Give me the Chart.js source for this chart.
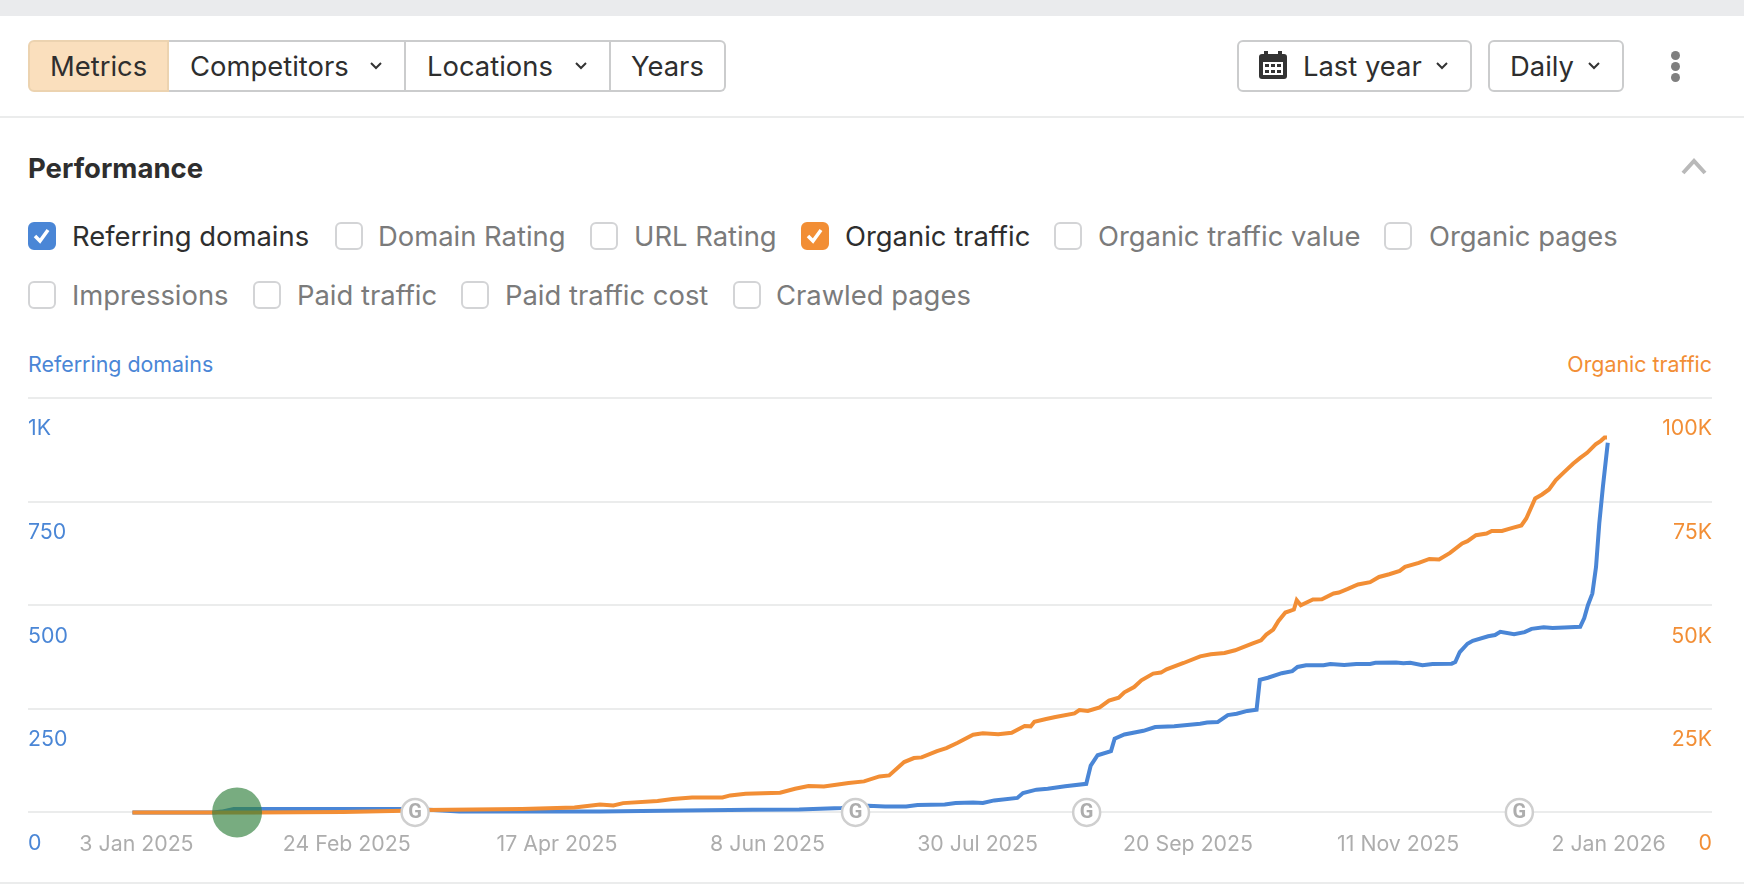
<!DOCTYPE html>
<html>
<head>
<meta charset="utf-8">
<title>Performance</title>
<script src="https://cdn.jsdelivr.net/npm/chart.js@4/dist/chart.umd.min.js"></script>
<style>
html, body { margin: 0; padding: 0; background: #fff; }
body { width: 1744px; height: 884px; position: relative; overflow: hidden; font-family: Inter, sans-serif; color: #2e2e2e; }
.abs { position: absolute; }
.band { left: 0; top: 0; width: 1744px; height: 16px; background: #eaebed; }
.rule { left: 0; width: 1744px; height: 2px; background: #ebecec; }
.btn { box-sizing: border-box; top: 40px; height: 52px; border: 2px solid #cbcccd; background: #fff; }
.txt { font-size: 27.4px; line-height: 32px; white-space: nowrap; }
.check { box-sizing: border-box; width: 28px; height: 28px; border: 2px solid #d3d4d6; border-radius: 6px; background: #fff; }
.check.blue { background: #4a86d6; border-color: #4a86d6; }
.check.orange { background: #f28e35; border-color: #f28e35; }
.check svg { position: absolute; left: 3px; top: 3px; }
.off { color: #7b7b7b; }
.dot { width: 9px; height: 9px; border-radius: 50%; background: #7f7f7f; left: 1671px; }
canvas { position: absolute; left: 0; top: 373px; }
</style>
</head>
<body>
<div class="abs band"></div>

<div class="abs btn" style="left:28px;width:141px;background:#fadfbd;border-color:#ecd3b0;border-radius:6px 0 0 6px"></div>
<div class="abs btn" style="left:169px;width:237px;border-left:none"></div>
<div class="abs btn" style="left:406px;width:205px;border-left:none"></div>
<div class="abs btn" style="left:611px;width:115px;border-left:none;border-radius:0 6px 6px 0"></div>
<div class="abs txt" style="left:50px;top:50px">Metrics</div>
<div class="abs txt" style="left:190px;top:50px">Competitors</div>
<div class="abs txt" style="left:427px;top:50px">Locations</div>
<div class="abs txt" style="left:631px;top:50px">Years</div>
<svg class="abs" style="left:369px;top:60px" width="14" height="12"><path d="M2 3 L7 8 L12 3" fill="none" stroke="#333" stroke-width="2"/></svg>
<svg class="abs" style="left:574px;top:60px" width="14" height="12"><path d="M2 3 L7 8 L12 3" fill="none" stroke="#333" stroke-width="2"/></svg>

<div class="abs btn" style="left:1237px;width:235px;border-radius:6px"></div>
<div class="abs btn" style="left:1488px;width:136px;border-radius:6px"></div>
<svg class="abs" style="left:1259px;top:51px" width="28" height="28" viewBox="0 0 28 28">
<rect x="0" y="3" width="28" height="25" rx="3" fill="#333"/><rect x="5" y="0" width="4" height="6" fill="#333"/><rect x="19" y="0" width="4" height="6" fill="#333"/>
<rect x="4" y="11" width="20" height="13" fill="#fff"/>
<path d="M6 13h4v3h-4zM12 13h4v3h-4zM18 13h4v3h-4zM6 19h4v3h-4zM12 19h4v3h-4zM18 19h4v3h-4z" fill="#333"/>
</svg>
<div class="abs txt" style="left:1303px;top:50px">Last year</div>
<div class="abs txt" style="left:1510px;top:50px">Daily</div>
<svg class="abs" style="left:1435px;top:60px" width="14" height="12"><path d="M2 3 L7 8 L12 3" fill="none" stroke="#333" stroke-width="2"/></svg>
<svg class="abs" style="left:1587px;top:60px" width="14" height="12"><path d="M2 3 L7 8 L12 3" fill="none" stroke="#333" stroke-width="2"/></svg>
<div class="abs dot" style="top:51px"></div>
<div class="abs dot" style="top:62px"></div>
<div class="abs dot" style="top:73px"></div>

<div class="abs rule" style="top:116px"></div>

<div class="abs" style="left:28px;top:152px;font-size:27.5px;line-height:32px;font-weight:700">Performance</div>
<svg class="abs" style="left:1681px;top:157px" width="26" height="18"><path d="M2 16 L13 4 L24 16" fill="none" stroke="#b9b9b9" stroke-width="4"/></svg>

<div class="abs check blue" style="left:28px;top:222px"><svg width="18" height="18"><path d="M2 9 L7 14 L15 3" fill="none" stroke="#fff" stroke-width="3.5"/></svg></div>
<div class="abs txt" style="left:72px;top:220px">Referring domains</div>
<div class="abs check" style="left:335px;top:222px"></div>
<div class="abs txt off" style="left:378px;top:220px">Domain Rating</div>
<div class="abs check" style="left:590px;top:222px"></div>
<div class="abs txt off" style="left:634px;top:220px">URL Rating</div>
<div class="abs check orange" style="left:801px;top:222px"><svg width="18" height="18"><path d="M2 9 L7 14 L15 3" fill="none" stroke="#fff" stroke-width="3.5"/></svg></div>
<div class="abs txt" style="left:845px;top:220px">Organic traffic</div>
<div class="abs check" style="left:1054px;top:222px"></div>
<div class="abs txt off" style="left:1098px;top:220px">Organic traffic value</div>
<div class="abs check" style="left:1384px;top:222px"></div>
<div class="abs txt off" style="left:1429px;top:220px">Organic pages</div>

<div class="abs check" style="left:28px;top:281px"></div>
<div class="abs txt off" style="left:72px;top:279px">Impressions</div>
<div class="abs check" style="left:253px;top:281px"></div>
<div class="abs txt off" style="left:297px;top:279px">Paid traffic</div>
<div class="abs check" style="left:461px;top:281px"></div>
<div class="abs txt off" style="left:505px;top:279px">Paid traffic cost</div>
<div class="abs check" style="left:733px;top:281px"></div>
<div class="abs txt off" style="left:776px;top:279px">Crawled pages</div>

<div class="abs" style="left:28px;top:352px;font-size:21.4px;line-height:24px;color:#4a86d6">Referring domains</div>
<div class="abs" style="right:32px;top:352px;font-size:21.4px;line-height:24px;color:#f28e35">Organic traffic</div>

<canvas id="chart" width="1744" height="503"></canvas>

<div class="abs rule" style="top:882px"></div>

<script>
// x runs along the year, first point is 2 Jan 2025, last is 2 Jan 2026 at 364
const xTickDays = [0.997, 52.85, 104.7, 156.6, 208.4, 260.3, 312.1, 364];
const xTickLabels = ['3 Jan 2025', '24 Feb 2025', '17 Apr 2025', '8 Jun 2025', '30 Jul 2025', '20 Sep 2025', '11 Nov 2025', '2 Jan 2026'];
const leftTicks = { 0: '0', 250: '250', 500: '500', 750: '750', 1000: '1K' };
const rightTicks = { 0: '0', 25000: '25K', 50000: '50K', 75000: '75K', 100000: '100K' };

const domainDays = [0, 20, 22, 25, 45, 70, 80.6, 100, 115.3, 136, 153, 164.4, 174.8, 181.4, 185.6, 190.8, 193.6, 200.3, 203, 207.3, 209.7, 212.5, 218.2, 219.6, 222.9, 225.7, 230, 235.2, 236.3, 238, 241.3, 242.2, 244.6, 249.3, 252.2, 256.9, 263.3, 265, 267.6, 270.1, 272.3, 274.9, 277.2, 278, 280, 283.4, 286, 287.3, 289.4, 293.7, 295.4, 298.8, 301.8, 305.2, 306.5, 311.6, 313.4, 315.1, 318.1, 320.6, 325.3, 326.2, 327.3, 329.2, 330.5, 334.3, 336, 337.3, 340.7, 343.3, 345, 348, 350.2, 353.1, 357, 358, 358.9, 360, 360.9, 361.7, 362.6, 363.8];
const domainValues = [0, 0, 2, 8, 8, 8, 2, 2, 2.4, 4.8, 6.4, 7.2, 11, 16, 14.5, 14.5, 18, 19, 22.5, 24, 23, 29, 35, 47, 55, 57, 63, 69, 113, 138, 148, 178, 188, 197, 206, 208, 214, 217, 218, 235, 238, 245, 248, 320, 325, 336, 341, 351, 355, 355, 358, 356, 358, 358, 361, 362, 360, 361, 355, 358, 359, 363, 387, 407, 414, 425, 428, 436, 430, 435, 443, 447, 445, 446, 448, 469, 500, 528, 592, 697, 786, 892];

const trafficDays = [0, 30, 52, 67, 72, 96, 109, 115.3, 118.6, 121, 129.5, 133.2, 138, 145.5, 147.4, 151.2, 159.7, 163.4, 166.7, 170.5, 176.6, 180.4, 184.2, 186.6, 190.3, 192.7, 194.6, 198.4, 200.7, 203.5, 207.3, 209.7, 213.5, 216.8, 220, 221.5, 222.4, 225.3, 227.6, 232.3, 233.5, 235.6, 238.5, 240.8, 243.2, 244.6, 247, 248.8, 251.7, 253.6, 255, 259.2, 263.3, 265.9, 269.3, 271.9, 276.1, 278.3, 279.6, 281.3, 282.6, 284.3, 286.4, 287.1, 288.1, 291.1, 293.3, 296.2, 297.5, 299.7, 302.2, 305.2, 307.4, 309.9, 312.5, 313.8, 317.2, 319.8, 322.2, 324.9, 327.9, 329.2, 331.3, 333.9, 335.2, 337.7, 340.3, 342.5, 343.7, 345.9, 347.6, 349.3, 351, 353.1, 355.3, 357, 358.7, 360.8, 362.1, 363, 363.6];
const trafficValues = [0, 0, 100, 400, 560, 800, 1200, 1930, 1690, 2250, 2735, 3220, 3620, 3620, 4105, 4510, 4750, 5715, 6360, 6280, 7080, 7490, 8690, 8935, 12155, 13120, 13280, 14810, 15535, 16820, 18750, 19080, 18840, 19240, 20850, 20770, 21900, 22540, 23020, 23910, 24710, 24470, 25360, 26970, 27700, 28980, 30260, 31880, 33500, 33740, 34530, 36060, 37670, 38160, 38480, 39120, 40730, 41540, 42910, 44120, 46200, 48230, 48950, 51200, 49990, 51370, 51440, 52820, 53060, 53930, 54990, 55550, 56820, 57480, 58270, 59240, 60210, 61170, 61030, 62620, 64890, 65450, 66900, 67310, 67930, 67930, 68660, 69240, 70930, 75760, 76720, 77930, 80180, 82180, 84210, 85560, 86770, 88800, 89670, 90490, 90490];

const googleUpdateDays = [69.7, 178.3, 235.3, 342];
const markerDays = [25.8];

const toPoints = (xs, ys) => xs.map((x, i) => ({ x: x, y: ys[i] }));

// the G letter on top of the update circles
const googleLetters = {
    id: 'googleLetters',
    afterDatasetsDraw(chart) {
        const ctx = chart.ctx;
        ctx.save();
        ctx.font = '700 20px Roboto, sans-serif';
        ctx.fillStyle = '#adadad';
        ctx.textAlign = 'center';
        ctx.textBaseline = 'middle';
        googleUpdateDays.forEach(day => {
            ctx.fillText('G', chart.scales.x.getPixelForValue(day), chart.scales.y.getPixelForValue(0) + 1);
        });
        ctx.restore();
    }
};

new Chart(document.getElementById('chart'), {
    type: 'line',
    data: {
        datasets: [
            { label: 'Referring domains', data: toPoints(domainDays, domainValues), yAxisID: 'y', borderColor: '#4a86d6', borderWidth: 4, pointRadius: 0, tension: 0, clip: false, order: 4 },
            { label: 'Organic traffic', data: toPoints(trafficDays, trafficValues), yAxisID: 'y1', borderColor: '#f28e35', borderWidth: 4, pointRadius: 0, tension: 0, clip: false, order: 3 },
            { label: 'Marker', data: markerDays.map(d => ({ x: d, y: 0 })), yAxisID: 'y', showLine: false, pointRadius: 25, pointBorderWidth: 0, pointBackgroundColor: 'rgba(48, 128, 60, 0.65)', clip: false, order: 2 },
            { label: 'Google updates', data: googleUpdateDays.map(d => ({ x: d, y: 0 })), yAxisID: 'y', showLine: false, pointRadius: 13.5, pointBorderWidth: 2.5, pointBorderColor: '#cfcfcf', pointBackgroundColor: '#fff', clip: false, order: 1 }
        ]
    },
    options: {
        responsive: false,
        animation: false,
        maintainAspectRatio: false,
        layout: { padding: { left: 28, right: 32, top: 11, bottom: 0 } },
        plugins: { legend: { display: false }, tooltip: { enabled: false } },
        scales: {
            x: {
                type: 'linear',
                min: -25.75,
                max: 389.5,
                afterBuildTicks: axis => { axis.ticks = xTickDays.map(v => ({ value: v })); },
                grid: { display: false, drawTicks: false },
                border: { display: false },
                ticks: {
                    autoSkip: false,
                    maxRotation: 0,
                    padding: 19,
                    color: '#adadad',
                    font: { family: 'Inter', size: 21.3 },
                    callback: value => xTickLabels[xTickDays.indexOf(value)]
                }
            },
            y: {
                position: 'left',
                min: 0,
                max: 1000,
                border: { display: false },
                grid: { color: '#ebecec', lineWidth: 2, drawTicks: false },
                ticks: {
                    stepSize: 250,
                    mirror: true,
                    padding: 0,
                    labelOffset: 31,
                    color: '#4a86d6',
                    font: { family: 'Inter', size: 21.3 },
                    callback: value => leftTicks[value]
                }
            },
            y1: {
                position: 'right',
                min: 0,
                max: 100000,
                border: { display: false },
                grid: { display: false, drawTicks: false },
                ticks: {
                    stepSize: 25000,
                    mirror: true,
                    padding: 0,
                    labelOffset: 31,
                    color: '#f28e35',
                    font: { family: 'Inter', size: 21.3 },
                    callback: value => rightTicks[value]
                }
            }
        }
    },
    plugins: [googleLetters]
});
</script>
</body>
</html>
